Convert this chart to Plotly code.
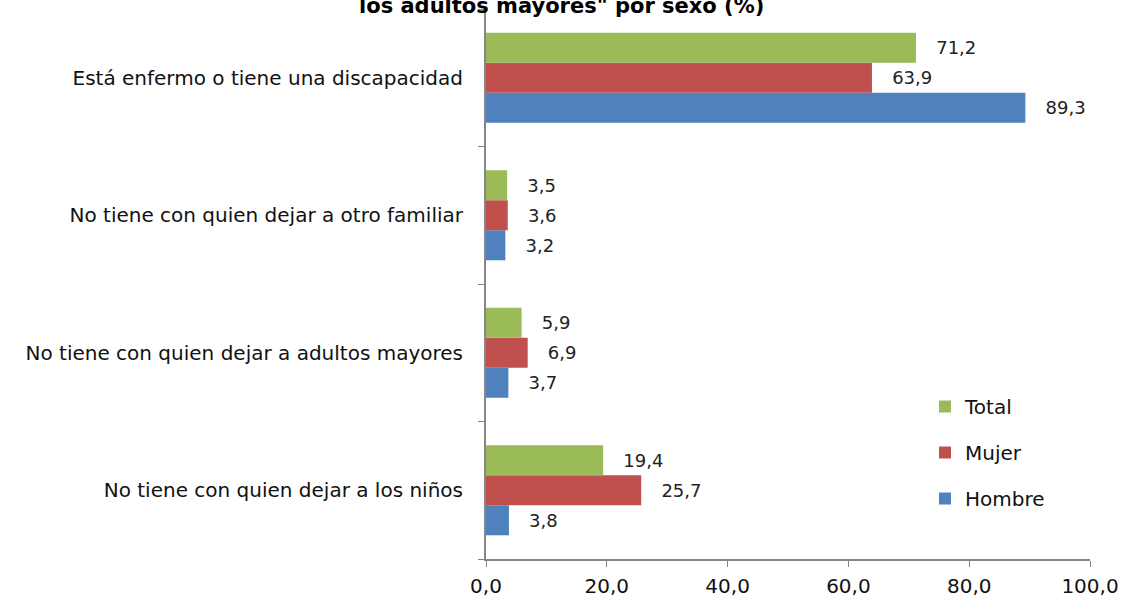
import plotly.graph_objects as go

categories = [
    "No tiene con quien dejar a los niños",
    "No tiene con quien dejar a adultos mayores",
    "No tiene con quien dejar a otro familiar",
    "Está enfermo o tiene una discapacidad",
]
hombre = [3.8, 3.7, 3.2, 89.3]
mujer = [25.7, 6.9, 3.6, 63.9]
total = [19.4, 5.9, 3.5, 71.2]
x_ticks = [0, 20, 40, 60, 80, 100]
title_text = 'los adultos mayores" por sexo (%)'

FONT = "DejaVu Sans"
series = [("Hombre", hombre, "#4F81BD"), ("Mujer", mujer, "#C0504D"), ("Total", total, "#9BBB59")]

fig = go.Figure()
for i, (name, vals, col) in enumerate(series):
    fig.add_trace(go.Bar(
        y=categories, x=vals, name=name, orientation="h",
        marker=dict(color=col, line=dict(width=0)),
        texttemplate="   %{x:.1f}", textposition="outside",
        textfont=dict(family=FONT, size=18, color="#222"),
        cliponaxis=False, legendgroup=name, legendrank=1000 - i,
    ))

fig.update_layout(
    width=1122, height=597,
    barmode="group", bargap=0.345, bargroupgap=0,
    separators=",.",
    plot_bgcolor="white", paper_bgcolor="white",
    margin=dict(l=486, r=32, t=9, b=38, autoexpand=False),
    font=dict(family=FONT, size=20, color="#111"),
    showlegend=True,
    legend=dict(x=0.7268, y=0.3127, xanchor="left", yanchor="top",
                traceorder="grouped", tracegroupgap=17,
                font=dict(family=FONT, size=20, color="#111"),
                itemwidth=30, bgcolor="rgba(0,0,0,0)"),
    annotations=[dict(text="<b>" + title_text + "</b>", xref="paper", yref="paper",
                      x=(561 - 486) / 604, y=1.0055, xanchor="center", yanchor="middle",
                      showarrow=False, font=dict(family=FONT, size=21, color="#000"))],
)
fig.update_xaxes(range=[0, 100], tickvals=x_ticks, tickformat=".1f",
                 showgrid=False, zeroline=False, showline=True, linecolor="#868686",
                 linewidth=2, ticks="outside", ticklen=6, tickcolor="#868686", tickwidth=1,
                 ticklabelstandoff=2,
                 tickfont=dict(family=FONT, size=20, color="#111"))
fig.update_yaxes(showgrid=False, zeroline=False, showline=True, linecolor="#868686",
                 linewidth=2, ticks="outside", ticklen=6, tickcolor="#868686",
                 tickson="boundaries", ticklabelstandoff=17,
                 tickfont=dict(family=FONT, size=20, color="#111"))

fig.write_html("out.html", config={"displayModeBar": False},
               post_script="document.body.style.margin='0';document.body.style.padding='0';")
